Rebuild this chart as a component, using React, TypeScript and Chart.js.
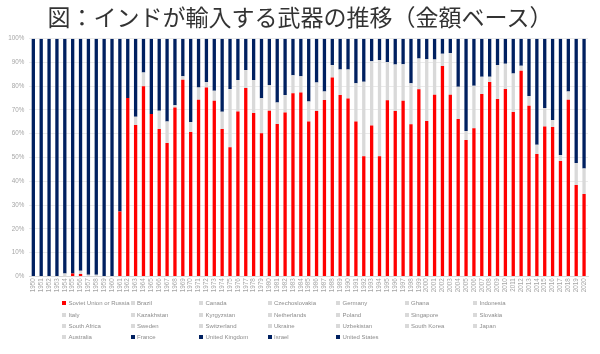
import React, { useEffect, useRef } from "react";
import { Chart, registerables } from "chart.js";

Chart.register(...registerables);

const title = "図：インドが輸入する武器の推移（金額ベース）";

const years = [
  "1950","1951","1952","1953","1954","1955","1956","1957","1958","1959",
  "1960","1961","1962","1963","1964","1965","1966","1967","1968","1969",
  "1970","1971","1972","1973","1974","1975","1976","1977","1978","1979",
  "1980","1981","1982","1983","1984","1985","1986","1987","1988","1989",
  "1990","1991","1992","1993","1994","1995","1996","1997","1998","1999",
  "2000","2001","2002","2003","2004","2005","2006","2007","2008","2009",
  "2010","2011","2012","2013","2014","2015","2016","2017","2018","2019",
  "2020",
];

// Share (%) from the Soviet Union / Russia (red)
const sovietRussia = [
  0, 0, 0, 0, 0, 1.2, 1.0, 0, 0, 0,
  0, 27.3, 75.0, 63.7, 80.0, 68.3, 62.0, 56.1, 71.0, 82.7,
  60.7, 74.3, 79.5, 73.9, 62.0, 54.3, 69.4, 79.2, 68.7, 60.2,
  69.7, 64.1, 68.9, 77.0, 77.4, 65.2, 69.6, 74.2, 83.7, 76.3,
  74.8, 65.2, 50.5, 63.5, 50.5, 74.1, 69.6, 73.9, 64.0, 78.7,
  65.4, 76.4, 88.5, 76.4, 66.2, 57.4, 62.3, 76.7, 81.8, 74.6,
  78.8, 69.1, 86.5, 71.8, 51.5, 63.0, 62.8, 48.5, 74.3, 38.4,
  34.6,
];

// Share (%) from the grey-coloured suppliers (Brazil ... Australia)
const greySuppliers = [
  0, 0, 0, 0, 1.2, 0, 1.3, 0.6, 0.6, 0,
  0, 0, 0, 3.5, 5.8, 0, 7.7, 9.1, 1.0, 1.5,
  4.2, 5.2, 2.3, 4.2, 7.3, 24.5, 13.2, 7.6, 13.9, 14.7,
  10.8, 9.0, 7.4, 7.6, 6.8, 8.4, 12.0, 3.6, 5.2, 10.7,
  12.2, 16.0, 31.4, 27.0, 40.5, 16.1, 19.5, 15.3, 17.2, 13.0,
  26.0, 14.8, 5.2, 17.6, 13.6, 3.8, 17.9, 7.3, 2.2, 14.3,
  10.7, 16.3, 2.1, 4.1, 3.9, 7.8, 3.0, 2.6, 3.5, 9.3,
  10.8,
];

// Share (%) from the navy-coloured suppliers (France, UK, Israel, USA)
const navySuppliers = [
  100, 100, 100, 100, 98.8, 98.8, 97.7, 99.4, 99.4, 100,
  100, 72.7, 25.0, 32.8, 14.2, 31.7, 30.3, 34.8, 28.0, 15.8,
  35.1, 20.5, 18.2, 21.9, 30.7, 21.2, 17.4, 13.2, 17.4, 25.1,
  19.5, 26.9, 23.7, 15.4, 15.8, 26.4, 18.4, 22.2, 11.1, 13.0,
  13.0, 18.8, 18.1, 9.5, 9.0, 9.8, 10.9, 10.8, 18.8, 8.3,
  8.6, 8.8, 6.3, 6.0, 20.2, 38.8, 19.8, 16.0, 16.0, 11.1,
  10.5, 14.6, 11.4, 24.1, 44.6, 29.2, 34.2, 48.9, 22.2, 52.3,
  54.6,
];

const redNames = ["Soviet Union or Russia"];
const greyNames = [
  "Brazil", "Canada", "Czechoslovakia", "Germany", "Ghana", "Indonesia",
  "Italy", "Kazakhstan", "Kyrgyzstan", "Netherlands", "Poland", "Singapore",
  "Slovakia", "South Africa", "Sweden", "Switzerland", "Ukraine", "Uzbekistan",
  "South Korea", "Japan", "Australia",
];
const navyNames = ["France", "United Kingdom", "Israel", "United States"];

const RED = "#FF0000";
const GREY = "#D9D9D9";
const NAVY = "#002060";

export default function App() {
  const ref = useRef<HTMLCanvasElement | null>(null);

  useEffect(() => {
    if (!ref.current) return;
    const chart = new Chart(ref.current, {
      type: "bar",
      data: {
        labels: years,
        datasets: [
          { label: "Soviet Union or Russia", data: sovietRussia, backgroundColor: RED },
          { label: "Grey suppliers", data: greySuppliers, backgroundColor: GREY },
          { label: "Navy suppliers", data: navySuppliers, backgroundColor: NAVY },
        ].map((d) => ({ ...d, barPercentage: 0.42, categoryPercentage: 1.0, borderWidth: 0 })),
      },
      options: {
        responsive: false,
        animation: false,
        devicePixelRatio: 1,
        layout: { padding: { top: 38.7, right: 12, bottom: 59.7, left: 0 } },
        plugins: { legend: { display: false }, title: { display: false }, tooltip: { enabled: false } },
        scales: {
          x: {
            stacked: true,
            grid: { display: false, drawTicks: false },
            border: { color: "#D9D9D9" },
            ticks: {
              autoSkip: false,
              minRotation: 90,
              maxRotation: 90,
              padding: 2,
              color: "#A6A6A6",
              font: { size: 6.3, family: "'Liberation Sans', Arial, sans-serif" },
            },
            afterFit: (s: any) => { s.height = 18; },
          },
          y: {
            stacked: true,
            min: 0,
            max: 100,
            grid: { color: "#E6E6E6", lineWidth: 0.8, drawTicks: false },
            border: { display: false },
            ticks: {
              stepSize: 10,
              padding: 5,
              color: "#A6A6A6",
              font: { size: 6.3, family: "'Liberation Sans', Arial, sans-serif" },
              callback: (v: any) => v + "%",
            },
            afterFit: (s: any) => { s.width = 29.4; },
          },
        },
      },
    });
    return () => chart.destroy();
  }, []);

  const legendItems = [
    ...redNames.map((n) => ({ n, c: RED })),
    ...greyNames.map((n) => ({ n, c: GREY })),
    ...navyNames.map((n) => ({ n, c: NAVY })),
  ];

  return (
    <div style={{ position: "absolute", left: 0, top: 0, width: 600, height: 354, background: "#fff", overflow: "hidden" }}>
      <canvas ref={ref} width={600} height={354} style={{ position: "absolute", left: 0, top: 0, width: 600, height: 354 }} />
      <div
        style={{
          position: "absolute", left: 0, top: 1, width: 600, textAlign: "center",
          fontFamily: "'Noto Sans CJK JP', sans-serif", fontSize: 23, lineHeight: "30px", color: "#333333",
        }}
      >
        {title}
      </div>
      <div
        style={{
          position: "absolute", left: 62, top: 297.6,
          display: "grid", gridTemplateColumns: "repeat(7, 68.5px)", gridAutoRows: "11.4px",
          fontFamily: "'Liberation Sans', Arial, sans-serif", fontSize: 6.0, color: "#8C8C8C",
        }}
      >
        {legendItems.map((it) => (
          <div key={it.n} style={{ display: "flex", alignItems: "center", whiteSpace: "nowrap" }}>
            <span style={{ display: "inline-block", width: 4, height: 4, background: it.c, marginRight: 2.5, flexShrink: 0 }} />
            <span>{it.n}</span>
          </div>
        ))}
      </div>
    </div>
  );
}
